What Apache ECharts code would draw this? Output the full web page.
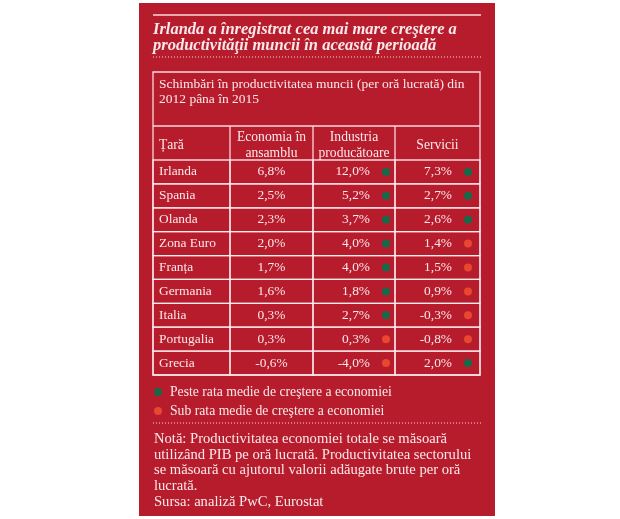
<!DOCTYPE html>
<html>
<head>
<meta charset="utf-8">
<script src="https://cdn.jsdelivr.net/npm/echarts@6/dist/echarts.min.js"></script>
<style>
  html, body { margin: 0; padding: 0; background: #fff; }
  #chart { width: 620px; height: 519px; }
</style>
</head>
<body>
<div id="chart"></div>
<script>
// values (change 2012-2015, %)
const countries = ['Irlanda', 'Spania', 'Olanda', 'Zona Euro', 'Franța', 'Germania', 'Italia', 'Portugalia', 'Grecia'];
const economia = [6.8, 2.5, 2.3, 2.0, 1.7, 1.6, 0.3, 0.3, -0.6];
const industria = [12.0, 5.2, 3.7, 4.0, 4.0, 1.8, 2.7, 0.3, -4.0];
const servicii = [7.3, 2.7, 2.6, 1.4, 1.5, 0.9, -0.3, -0.8, 2.0];
const headers = ['Țară', 'Economia în\nansamblu', 'Industria\nproducătoare', 'Servicii'];

const title = 'Irlanda a înregistrat cea mai mare creştere a\nproductivităţii muncii în această perioadă';
const subtitle = 'Schimbări în productivitatea muncii (per oră lucrată) din\n2012 pâna în 2015';
const legendAbove = 'Peste rata medie de creştere a economiei';
const legendBelow = 'Sub rata medie de creştere a economiei';
const note = 'Notă: Productivitatea economiei totale se măsoară\nutilizând PIB pe oră lucrată. Productivitatea sectorului\nse măsoară cu ajutorul valorii adăugate brute per oră\nlucrată.\nSursa: analiză PwC, Eurostat';

// layout
const RED = '#b71c2d';
const LINE = 'rgba(255,236,238,0.9)';
const TEXT = '#f9e9ea';
const GREEN = '#17694a';
const ORANGE = '#e9472f';
const FONT = '"Liberation Serif", "DejaVu Serif", serif';
const TABLE_LEFT = 153;
const TABLE_RIGHT = 480;
const COL_EDGES = [0, 77, 160, 242, 327];

const fmt = v => v.toFixed(1).replace('.', ',') + '%';
const columns = [null, economia, industria, servicii];

const chart = echarts.init(document.getElementById('chart'), null, { renderer: 'canvas' });

const cellData = [];
countries.forEach((c, i) => {
  for (let j = 0; j < 4; j++) cellData.push([j, i]);
});

function renderCell(params, api) {
  const col = api.value(0);
  const row = api.value(1);
  const left = api.coord([COL_EDGES[col], row]);
  const right = api.coord([COL_EDGES[col + 1], row]);
  const h = api.size([0, 1])[1];
  const y0 = left[1] - h / 2;
  const cy = left[1];
  const children = [{
    type: 'rect',
    shape: { x: left[0], y: y0, width: right[0] - left[0], height: h },
    style: { fill: 'transparent', stroke: LINE, lineWidth: 1.3 }
  }];
  const textStyle = { fill: TEXT, font: '13.4px ' + FONT, textVerticalAlign: 'middle' };
  if (col === 0) {
    children.push({ type: 'text', style: Object.assign({ x: left[0] + 6, y: cy, text: countries[row], textAlign: 'left' }, textStyle) });
  } else if (col === 1) {
    children.push({ type: 'text', style: Object.assign({ x: (left[0] + right[0]) / 2, y: cy, text: fmt(economia[row]), textAlign: 'center' }, textStyle) });
  } else {
    const v = columns[col][row];
    children.push({ type: 'text', style: Object.assign({ x: left[0] + 57, y: cy, text: fmt(v), textAlign: 'right' }, textStyle) });
    children.push({
      type: 'circle',
      shape: { cx: left[0] + 73, cy: cy, r: 4 },
      style: { fill: v > economia[row] ? GREEN : ORANGE }
    });
  }
  return { type: 'group', children: children };
}

const graphics = [
  { type: 'rect', shape: { x: 139, y: 3, width: 356, height: 513 }, style: { fill: RED }, z: -10 },
  { type: 'line', shape: { x1: TABLE_LEFT, y1: 15, x2: 481, y2: 15 }, style: { stroke: LINE, lineWidth: 1.5 } },
  { type: 'text', style: { x: TABLE_LEFT, y: 21, text: title, fill: TEXT, font: 'italic bold 16.5px ' + FONT, lineHeight: 16.5 } },
  { type: 'line', shape: { x1: TABLE_LEFT, y1: 57, x2: 481, y2: 57 }, style: { stroke: LINE, lineWidth: 1, lineDash: [1, 2] } },
  { type: 'rect', shape: { x: TABLE_LEFT, y: 72, width: TABLE_RIGHT - TABLE_LEFT, height: 303 }, style: { fill: 'transparent', stroke: LINE, lineWidth: 1.3 } },
  { type: 'text', style: { x: 159, y: 77, text: subtitle, fill: TEXT, font: '13.5px ' + FONT, lineHeight: 15 } },
  { type: 'line', shape: { x1: TABLE_LEFT, y1: 126, x2: TABLE_RIGHT, y2: 126 }, style: { stroke: LINE, lineWidth: 1.3 } },
  { type: 'circle', shape: { cx: 158, cy: 392, r: 4 }, style: { fill: GREEN } },
  { type: 'text', style: { x: 170, y: 392, text: legendAbove, fill: TEXT, font: '13.7px ' + FONT, textVerticalAlign: 'middle' } },
  { type: 'circle', shape: { cx: 158, cy: 411, r: 4 }, style: { fill: ORANGE } },
  { type: 'text', style: { x: 170, y: 411, text: legendBelow, fill: TEXT, font: '13.7px ' + FONT, textVerticalAlign: 'middle' } },
  { type: 'line', shape: { x1: TABLE_LEFT, y1: 423, x2: 481, y2: 423 }, style: { stroke: LINE, lineWidth: 1, lineDash: [1, 2] } },
  { type: 'text', style: { x: 154, y: 431, text: note, fill: TEXT, font: '14.6px ' + FONT, lineHeight: 15.8 } }
];

// header row
headers.forEach((h, j) => {
  const x0 = TABLE_LEFT + COL_EDGES[j];
  const x1 = TABLE_LEFT + COL_EDGES[j + 1];
  if (j > 0) {
    graphics.push({ type: 'line', shape: { x1: x0, y1: 126, x2: x0, y2: 160 }, style: { stroke: LINE, lineWidth: 1.3 } });
  }
  graphics.push({
    type: 'text',
    style: {
      x: j === 0 ? x0 + 6 : (x0 + x1) / 2,
      y: 145,
      text: h,
      textAlign: j === 0 ? 'left' : 'center',
      textVerticalAlign: 'middle',
      fill: TEXT,
      font: '13.6px ' + FONT,
      lineHeight: 16
    }
  });
});

const option = {
  animation: false,
  backgroundColor: '#fff',
  grid: { left: TABLE_LEFT, top: 160, width: TABLE_RIGHT - TABLE_LEFT, height: 215 },
  xAxis: { type: 'value', min: 0, max: COL_EDGES[COL_EDGES.length - 1], show: false },
  yAxis: { type: 'category', data: countries, inverse: true, show: false },
  graphic: graphics,
  series: [{
    type: 'custom',
    renderItem: renderCell,
    data: cellData,
    silent: true
  }]
};

chart.setOption(option);
</script>
</body>
</html>
